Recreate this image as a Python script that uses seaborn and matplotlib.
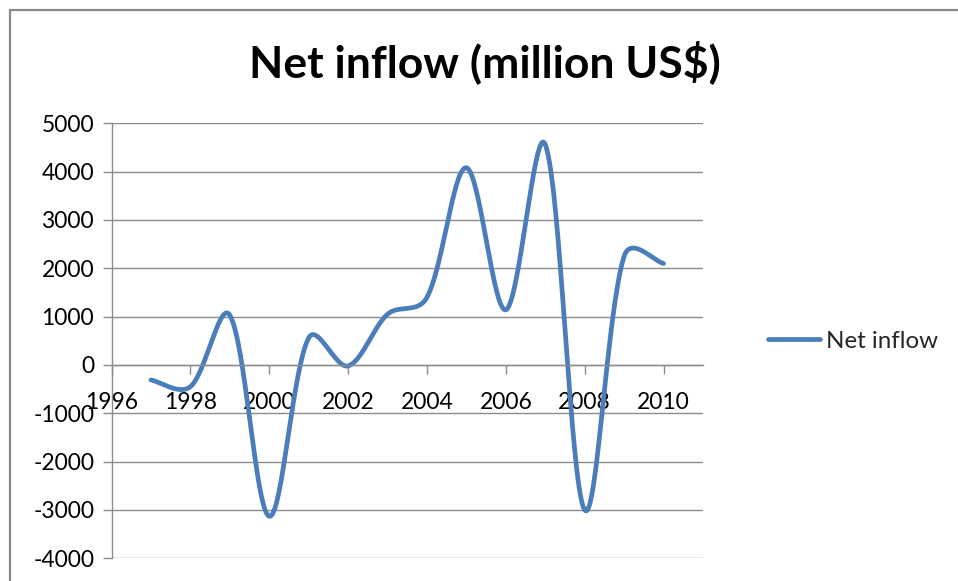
import numpy as np
import pandas as pd
import matplotlib
matplotlib.use("Agg")
import matplotlib.pyplot as plt
from matplotlib.lines import Line2D
import seaborn as sns

# ---- data ----
years = [1997, 1998, 1999, 2000, 2001, 2002, 2003, 2004, 2005, 2006, 2007, 2008, 2009, 2010]
net_inflow = [-310, -450, 1030, -3130, 560, -20, 1050, 1400, 4080, 1140, 4560, -3000, 2250, 2100]
series_name = "Net inflow"
title = "Net inflow (million US$)"
x_ticks = [1996, 1998, 2000, 2002, 2004, 2006, 2008, 2010]
y_ticks = [-4000, -3000, -2000, -1000, 0, 1000, 2000, 3000, 4000, 5000]

XLIM = (1996, 2011)
YLIM = (-4000, 5000)
W, H = 958, 581
AX_PX = (111.5, 123.3, 703, 558.3)  # left, top, right, bottom in pixels


def excel_smooth(xs, ys, sx_scale, sy_scale, n=60):
    """Bezier smoothing (tension 1/6) with tangents moderated by neighbouring
    segment lengths in screen space, similar to a spreadsheet 'smoothed line'."""
    P = np.column_stack([np.asarray(xs, float) * sx_scale,
                         np.asarray(ys, float) * sy_scale])
    m = len(P)
    ctrl_out = np.zeros_like(P)
    ctrl_in = np.zeros_like(P)
    for i in range(m):
        prev = P[i - 1] if i > 0 else P[i]
        nxt = P[i + 1] if i < m - 1 else P[i]
        d1 = np.linalg.norm(P[i] - prev)
        d2 = np.linalg.norm(nxt - P[i])
        tang = (nxt - prev) / 6.0
        tot = d1 + d2 if (d1 + d2) > 0 else 1.0
        f_out = np.sqrt(2 * d2 / tot)
        f_in = np.sqrt(2 * d1 / tot)
        ctrl_out[i] = P[i] + tang * f_out
        ctrl_in[i] = P[i] - tang * f_in
    t = np.linspace(0, 1, n)[:, None]
    segs = []
    for i in range(m - 1):
        b0, b1, b2, b3 = P[i], ctrl_out[i], ctrl_in[i + 1], P[i + 1]
        seg = (1 - t) ** 3 * b0 + 3 * (1 - t) ** 2 * t * b1 + 3 * (1 - t) * t ** 2 * b2 + t ** 3 * b3
        if i > 0:
            seg = seg[1:]
        segs.append(seg)
    out = np.vstack(segs)
    return out[:, 0] / sx_scale, out[:, 1] / sy_scale


px_per_x = (AX_PX[2] - AX_PX[0]) / (XLIM[1] - XLIM[0])
px_per_y = (AX_PX[3] - AX_PX[1]) / (YLIM[1] - YLIM[0])
sx, sy = excel_smooth(years, net_inflow, px_per_x, px_per_y)
df = pd.DataFrame({"Year": sx, "Value": sy, "Series": series_name})

sns.set_theme(style="white")
plt.rcParams["font.family"] = ["Lato", "DejaVu Sans"]

fig = plt.figure(figsize=(W / 100, H / 100), dpi=100)
ax = fig.add_axes([AX_PX[0] / W, 1 - AX_PX[3] / H,
                   (AX_PX[2] - AX_PX[0]) / W, (AX_PX[3] - AX_PX[1]) / H])

grid_col = "#8c8c8c"
line_col = "#4a7ebb"
lw = 3.4

sns.lineplot(data=df, x="Year", y="Value", sort=False, estimator=None,
             color=line_col, linewidth=lw, ax=ax,
             solid_capstyle="round", legend=False)

ax.set_xlim(*XLIM)
ax.set_ylim(*YLIM)
ax.set_xticks(x_ticks)
ax.set_xticklabels([str(v) for v in x_ticks])
ax.set_yticks(y_ticks)
ax.set_yticklabels([str(v) for v in y_ticks])
ax.set_xlabel("")
ax.set_ylabel("")

ax.yaxis.grid(True, color=grid_col, linewidth=1.0)
ax.xaxis.grid(False)
ax.set_axisbelow(True)

for s in ["top", "right"]:
    ax.spines[s].set_visible(False)
ax.spines["left"].set_color(grid_col)
ax.spines["left"].set_linewidth(1.0)
ax.spines["bottom"].set_position(("data", 0))
ax.spines["bottom"].set_color(grid_col)
ax.spines["bottom"].set_linewidth(1.0)

ax.tick_params(axis="both", direction="out", length=6.5, width=1.0, color=grid_col,
               labelsize=16.5, labelcolor="black")
ax.tick_params(axis="x", pad=13)
ax.tick_params(axis="y", pad=6)
ax.tick_params(left=True, bottom=True)

fig.text(485 / W, 1 - 62 / H, title, ha="center", va="center",
         fontsize=32, fontweight="bold", color="black")

handle = Line2D([], [], color=line_col, linewidth=lw, solid_capstyle="round")
fig.legend([handle], [series_name], loc="center left",
           bbox_to_anchor=(768 / W, 1 - 341 / H), frameon=False,
           fontsize=17.4, handlelength=2.15, handletextpad=0.25, borderpad=0,
           borderaxespad=0)

# chart-area border (left and top edges visible)
border_col = "#8a8a8a"
fig.add_artist(Line2D([10 / W, 10 / W], [0, 1 - 10 / H], transform=fig.transFigure,
                      color=border_col, linewidth=1.6))
fig.add_artist(Line2D([10 / W, 1], [1 - 10 / H, 1 - 10 / H], transform=fig.transFigure,
                      color=border_col, linewidth=1.6))

fig.savefig("out.png", dpi=100, facecolor="white")
